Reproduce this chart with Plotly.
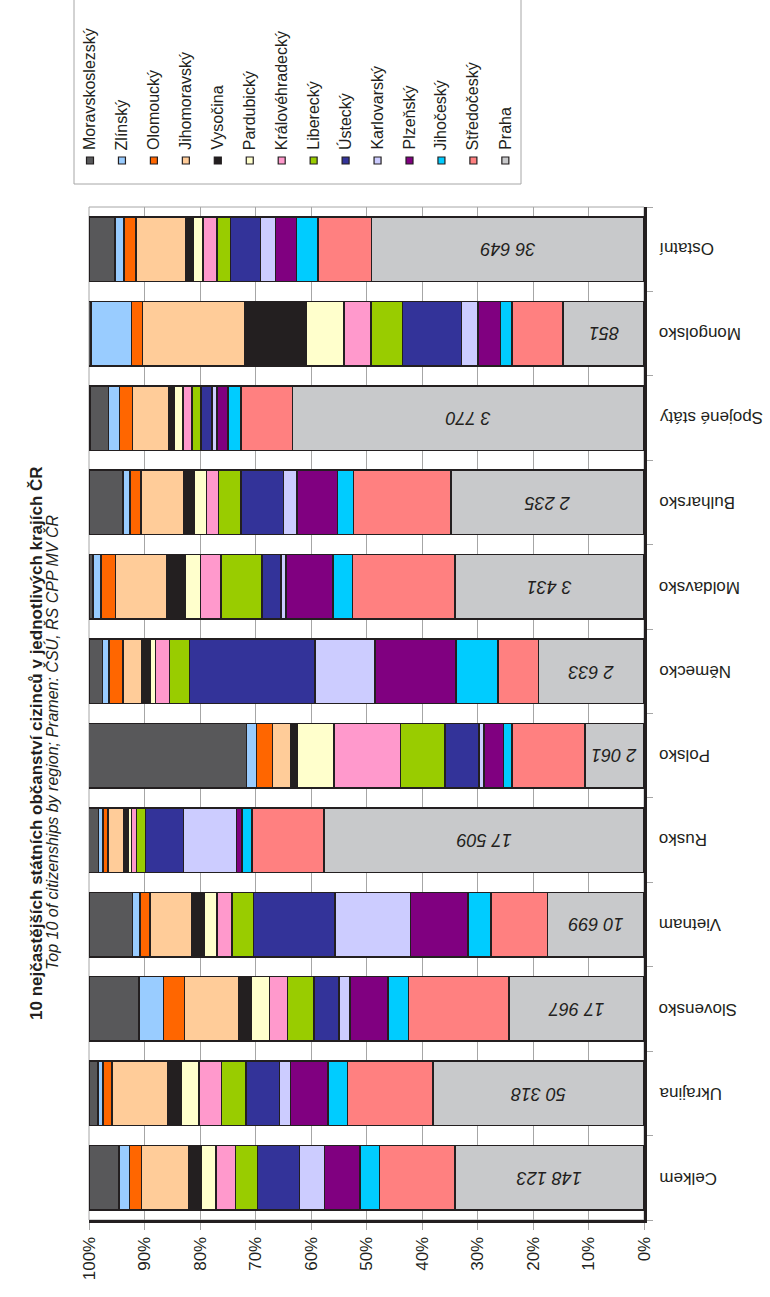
import plotly.graph_objects as go

categories = ["Celkem", "Ukrajina", "Slovensko", "Vietnam", "Rusko", "Polsko",
              "Německo", "Moldavsko", "Bulharsko", "Spojené státy", "Mongolsko", "Ostatní"]

praha_counts = ["148 123", "50 318", "17 967", "10 699", "17 509", "2 061",
                "2 633", "3 431", "2 235", "3 770", "851", "36 649"]

# shares (%) per region, order of categories above
praha          = [34.1, 38.0, 24.3, 17.4, 57.7, 10.6, 19.0, 34.1, 34.8, 63.3, 14.6, 49.1]
stredocesky    = [13.6, 15.4, 18.1, 10.2, 12.9, 13.2,  7.3, 18.4, 17.5,  9.3,  9.2,  9.6]
jihocesky      = [ 3.5,  3.5,  3.7,  4.1,  1.8,  1.5,  7.6,  3.5,  2.9,  2.4,  2.1,  3.9]
plzensky       = [ 6.4,  6.8,  6.9, 10.4,  1.0,  3.5, 14.6,  8.5,  7.3,  1.9,  4.0,  3.8]
karlovarsky    = [ 4.5,  2.0,  2.0, 13.6,  9.6,  0.9, 10.8,  0.9,  2.5,  0.9,  3.0,  2.7]
ustecky        = [ 7.5,  6.0,  4.5, 14.7,  6.8,  6.2, 22.6,  3.4,  7.6,  2.0, 10.6,  5.4]
liberecky      = [ 4.0,  4.4,  4.7,  3.8,  1.6,  8.0,  3.6,  7.4,  4.1,  1.6,  5.7,  2.4]
kralovehradecky= [ 3.5,  4.1,  3.3,  2.7,  0.9, 12.0,  2.5,  3.7,  2.1,  1.7,  4.9,  2.6]
pardubicky     = [ 2.7,  3.1,  3.3,  2.4,  0.6,  6.6,  1.0,  2.8,  2.3,  1.5,  6.8,  1.7]
vysocina       = [ 2.2,  2.6,  2.3,  2.2,  0.9,  1.1,  1.5,  3.3,  1.8,  1.0, 11.0,  1.4]
jihomoravsky   = [ 8.5, 10.0,  9.7,  7.5,  2.8,  3.3,  3.4,  9.2,  7.7,  6.6, 18.5,  8.9]
olomoucky      = [ 2.2,  1.6,  3.8,  1.8,  0.9,  2.9,  2.5,  2.6,  2.0,  2.3,  1.9,  2.2]
zlinsky        = [ 1.9,  0.9,  4.4,  1.4,  0.8,  1.8,  1.2,  1.5,  1.3,  2.0,  7.3,  1.6]
moravskoslezsky= [ 5.4,  1.6,  9.0,  7.7,  1.8, 28.5,  2.4,  0.7,  6.0,  3.3,  0.5,  4.6]

# stacking order: from 0 % (Praha) to 100 % (Moravskoslezský)
series = [
    ("Praha", praha, "#C8C9CB"),
    ("Středočeský", stredocesky, "#FF8080"),
    ("Jihočeský", jihocesky, "#00CCFF"),
    ("Plzeňský", plzensky, "#800080"),
    ("Karlovarský", karlovarsky, "#CCCCFF"),
    ("Ústecký", ustecky, "#333399"),
    ("Liberecký", liberecky, "#99CC00"),
    ("Královéhradecký", kralovehradecky, "#FF99CC"),
    ("Pardubický", pardubicky, "#FFFFCC"),
    ("Vysočina", vysocina, "#231F20"),
    ("Jihomoravský", jihomoravsky, "#FFCC99"),
    ("Olomoucký", olomoucky, "#FF6600"),
    ("Zlínský", zlinsky, "#99CCFF"),
    ("Moravskoslezský", moravskoslezsky, "#58585A"),
]

ticks = [0, 10, 20, 30, 40, 50, 60, 70, 80, 90, 100]
tick_text = [f"{t}%" for t in ticks]

W, H = 770, 1297
L, R, T, B = 89, 644, 207, 1220
FONT = "Liberation Sans, Arial, sans-serif"
DARK = "#231F20"


def px(xp):
    return (xp - L) / (R - L)


def py(yp):
    return (B - yp) / (B - T)


fig = go.Figure()
for name, vals, col in series:
    fig.add_trace(go.Bar(
        y=categories, x=vals, name=name, orientation="h",
        marker=dict(color=col, line=dict(color=DARK, width=1.5)),
        showlegend=False, hoverinfo="x+y+name"))

annotations = []
# value labels inside Praha segments (upside down)
for c, v, lab in zip(categories, praha, praha_counts):
    annotations.append(dict(
        x=v / 2, y=c, xref="x", yref="y", text=lab, showarrow=False,
        textangle=180, font=dict(family=FONT, size=18, color=DARK, style="italic")))

# category labels (upside down), right of the plot
for c in categories:
    annotations.append(dict(
        x=px(657), y=c, xref="paper", yref="y", text=c, showarrow=False,
        textangle=180, xanchor="left", yanchor="middle",
        font=dict(family=FONT, size=17, color=DARK)))

# title + subtitle rotated
annotations.append(dict(
    x=px(36), y=py(743), xref="paper", yref="paper", showarrow=False,
    text="<b>10 nejčastějších státních občanství cizinců v jednotlivých krajích ČR</b>",
    textangle=-90, xanchor="center", yanchor="middle",
    font=dict(family=FONT, size=17, color=DARK)))
annotations.append(dict(
    x=px(52), y=py(743), xref="paper", yref="paper", showarrow=False,
    text="<i>Top 10 of citizenships by region; Pramen: ČSÚ, ŘS CPP MV ČR</i>",
    textangle=-90, xanchor="center", yanchor="middle",
    font=dict(family=FONT, size=16, color=DARK)))

shapes = []
# plot frame (thin gray on top/left)
shapes.append(dict(type="rect", xref="paper", yref="paper", x0=0, x1=1, y0=0, y1=1,
                   line=dict(color="#A6A6A6", width=1), layer="below"))

# manual rotated legend
legend_order = list(reversed(series))  # Moravskoslezský first
x0 = 90.0
pitch = 31.95
shapes.append(dict(type="rect", xref="paper", yref="paper",
                   x0=px(74), x1=px(521), y0=py(184), y1=py(-5),
                   line=dict(color="#A6A6A6", width=1), fillcolor="rgba(0,0,0,0)"))
for i, (name, vals, col) in enumerate(legend_order):
    cx = x0 + i * pitch
    shapes.append(dict(type="rect", xref="paper", yref="paper",
                       x0=px(cx - 3.5), x1=px(cx + 3.5), y0=py(164), y1=py(157),
                       fillcolor=col, line=dict(color=DARK, width=1.2)))
    annotations.append(dict(
        x=px(cx), y=py(152), xref="paper", yref="paper", text=name, showarrow=False,
        textangle=-90, xanchor="center", yanchor="bottom",
        font=dict(family=FONT, size=16, color=DARK)))

fig.update_layout(
    width=W, height=H,
    margin=dict(l=L, r=W - R, t=T, b=H - B, pad=0),
    barmode="stack", bargap=0.236,
    plot_bgcolor="white", paper_bgcolor="white",
    font=dict(family=FONT, color=DARK),
    showlegend=False,
    xaxis=dict(range=[100, 0], tickvals=ticks, ticktext=tick_text, tickangle=-90,
               tickfont=dict(family=FONT, size=17, color=DARK),
               showgrid=True, gridcolor="#A6A6A6", gridwidth=1,
               showline=True, linecolor=DARK, linewidth=3,
               ticks="outside", ticklen=7, tickcolor="#A6A6A6", zeroline=False,
               fixedrange=True),
    yaxis=dict(type="category", categoryorder="array", categoryarray=categories,
               side="right", showticklabels=False, tickson="boundaries",
               ticks="outside", ticklen=6, tickcolor="#A6A6A6",
               showline=True, linecolor=DARK, linewidth=3, showgrid=False,
               fixedrange=True),
    annotations=annotations,
    shapes=shapes,
)

fig.write_html("out.html")
